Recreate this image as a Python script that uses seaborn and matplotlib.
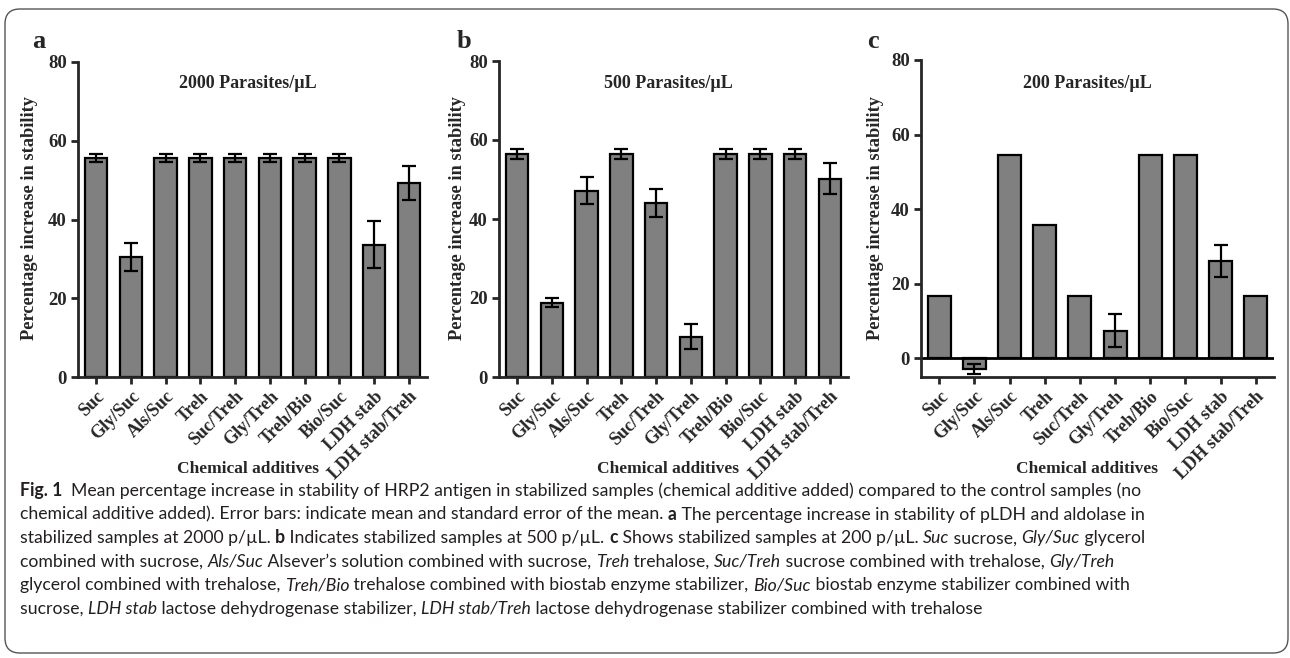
import numpy as np
import pandas as pd
import matplotlib
matplotlib.use("Agg")
import matplotlib.pyplot as plt
import seaborn as sns
from matplotlib.patches import FancyBboxPatch

# chemical additives (x categories)
additives = ["Suc", "Gly/Suc", "Als/Suc", "Treh", "Suc/Treh", "Gly/Treh",
             "Treh/Bio", "Bio/Suc", "LDH stab", "LDH stab/Treh"]

# 2000 parasites/uL
mean_2000 = [55.6, 30.4, 55.6, 55.6, 55.6, 55.6, 55.6, 55.6, 33.6, 49.3]
sem_2000 = [1.0, 3.6, 1.0, 1.0, 1.0, 1.0, 1.0, 1.0, 6.0, 4.4]

# 500 parasites/uL
mean_500 = [56.5, 18.8, 47.2, 56.5, 44.0, 10.2, 56.5, 56.5, 56.5, 50.2]
sem_500 = [1.3, 1.2, 3.5, 1.3, 3.5, 3.1, 1.3, 1.3, 1.3, 3.9]

# 200 parasites/uL
mean_200 = [16.7, -2.8, 54.5, 35.7, 16.7, 7.4, 54.5, 54.5, 26.2, 16.7]
sem_200 = [0, 1.4, 0, 0, 0, 4.4, 0, 0, 4.3, 0]

W, H = 1290, 658
sns.set_style("ticks")
plt.rcParams["font.family"] = ["Liberation Serif", "DejaVu Serif"]
plt.rcParams["font.weight"] = "bold"

fig = plt.figure(figsize=(W / 100, H / 100), dpi=100)


def px(x, y):
    return x / W, 1 - y / H


def add_axes(left, top, right, bottom):
    return fig.add_axes([left / W, 1 - bottom / H, (right - left) / W, (bottom - top) / H])


def draw_panel(ax, means, sems, ymin=0):
    df = pd.DataFrame({"Additive": additives, "Mean": means, "SEM": sems})
    sns.barplot(data=df, x="Additive", y="Mean", order=additives, color="#808080",
                saturation=1, edgecolor="black", linewidth=1.6, width=0.65,
                errorbar=None, ax=ax)
    has = (df["SEM"] > 0).values
    pos = np.arange(len(additives))
    ax.errorbar(pos[has], df["Mean"].values[has], yerr=df["SEM"].values[has],
                fmt="none", ecolor="black", elinewidth=1.6, capsize=5, capthick=1.6)
    ax.set_ylim(ymin, 80)
    ax.set_xlim(-0.52, 9.52)
    ax.set_yticks([0, 20, 40, 60, 80])
    ax.set_xlabel("")
    ax.set_ylabel("")
    ax.set_xticks(pos)
    ax.set_xticklabels(additives, rotation=45, ha="right", rotation_mode="anchor",
                       fontsize=13, fontweight="bold")
    ax.tick_params(axis="x", direction="out", length=5, width=2, pad=3)
    ax.tick_params(axis="y", direction="out", length=5, width=2, labelsize=13.5, pad=3)
    for lab in ax.get_yticklabels():
        lab.set_fontweight("bold")
    sns.despine(ax=ax)
    for s in ["left", "bottom"]:
        ax.spines[s].set_linewidth(2)
    ax.patch.set_alpha(0)


ax_a = add_axes(78, 62, 427, 377)
draw_panel(ax_a, mean_2000, sem_2000)
ax_b = add_axes(499, 61, 848, 377)
draw_panel(ax_b, mean_500, sem_500)
ax_c = add_axes(921, 60, 1274, 377)
draw_panel(ax_c, mean_200, sem_200, ymin=-5)
ax_c.axhline(0, color="black", lw=2)

panels = [("a", 32, 30, 248, "2000 Parasites/µL"),
          ("b", 457, 458, 668, "500 Parasites/µL"),
          ("c", 867, 875, 1087, "200 Parasites/µL")]
for letter, lx, ylx, cx, title in panels:
    fig.text(*px(lx, 48), letter, fontsize=19, fontweight="bold", ha="left", va="baseline")
    fig.text(*px(cx, 83), title, fontsize=13, fontweight="bold", ha="center", va="center")
    fig.text(*px(cx, 469), "Chemical additives", fontsize=12.5, fontweight="bold",
             ha="center", va="center")
    fig.text(*px(ylx, 218), "Percentage increase in stability", rotation=90, fontsize=13.2,
             fontweight="bold", ha="center", va="center")

# rounded frame
frame = FancyBboxPatch((0.05, 0.05), 12.83, 6.44, boxstyle="round,pad=0,rounding_size=0.15",
                       transform=fig.dpi_scale_trans, fill=False, edgecolor="#555555", lw=1)
fig.patches.append(frame)

# caption
cap_font = ["Lato", "DejaVu Sans"]
cap_size = 12.7
renderer = fig.canvas.get_renderer()


def run_width(txt, weight, style):
    t1 = fig.text(0, 0, "|" + txt + "|", fontsize=cap_size, family=cap_font,
                  fontweight=weight, fontstyle=style)
    t2 = fig.text(0, 0, "||", fontsize=cap_size, family=cap_font,
                  fontweight=weight, fontstyle=style)
    w = t1.get_window_extent(renderer).width - t2.get_window_extent(renderer).width
    t1.remove()
    t2.remove()
    return w


def caption_line(y, runs):
    x = 20
    for txt, st in runs:
        weight = "bold" if st == "b" else "normal"
        style = "italic" if st == "i" else "normal"
        fig.text(*px(x, y), txt, fontsize=cap_size, family=cap_font, fontweight=weight,
                 fontstyle=style, ha="left", va="baseline", color="#231f20")
        x += run_width(txt, weight, style)


lines = [
    [("Fig. 1", "b"), ("  Mean percentage increase in stability of HRP2 antigen in stabilized samples "
                        "(chemical additive added) compared to the control samples (no", "n")],
    [("chemical additive added). Error bars: indicate mean and standard error of the mean. ", "n"),
     ("a", "b"), (" The percentage increase in stability of pLDH and aldolase in", "n")],
    [("stabilized samples at 2000 p/µL. ", "n"), ("b", "b"),
     (" Indicates stabilized samples at 500 p/µL. ", "n"), ("c", "b"),
     (" Shows stabilized samples at 200 p/µL. ", "n"), ("Suc", "i"), (" sucrose, ", "n"),
     ("Gly/Suc", "i"), (" glycerol", "n")],
    [("combined with sucrose, ", "n"), ("Als/Suc", "i"),
     (" Alsever’s solution combined with sucrose, ", "n"), ("Treh", "i"), (" trehalose, ", "n"),
     ("Suc/Treh", "i"), (" sucrose combined with trehalose, ", "n"), ("Gly/Treh", "i")],
    [("glycerol combined with trehalose, ", "n"), ("Treh/Bio", "i"),
     (" trehalose combined with biostab enzyme stabilizer, ", "n"), ("Bio/Suc", "i"),
     (" biostab enzyme stabilizer combined with", "n")],
    [("sucrose, ", "n"), ("LDH stab", "i"), (" lactose dehydrogenase stabilizer, ", "n"),
     ("LDH stab/Treh", "i"), (" lactose dehydrogenase stabilizer combined with trehalose", "n")],
]
for i, runs in enumerate(lines):
    caption_line(496 + i * 23.6, runs)

fig.savefig("out.png", dpi=100, facecolor="white")
